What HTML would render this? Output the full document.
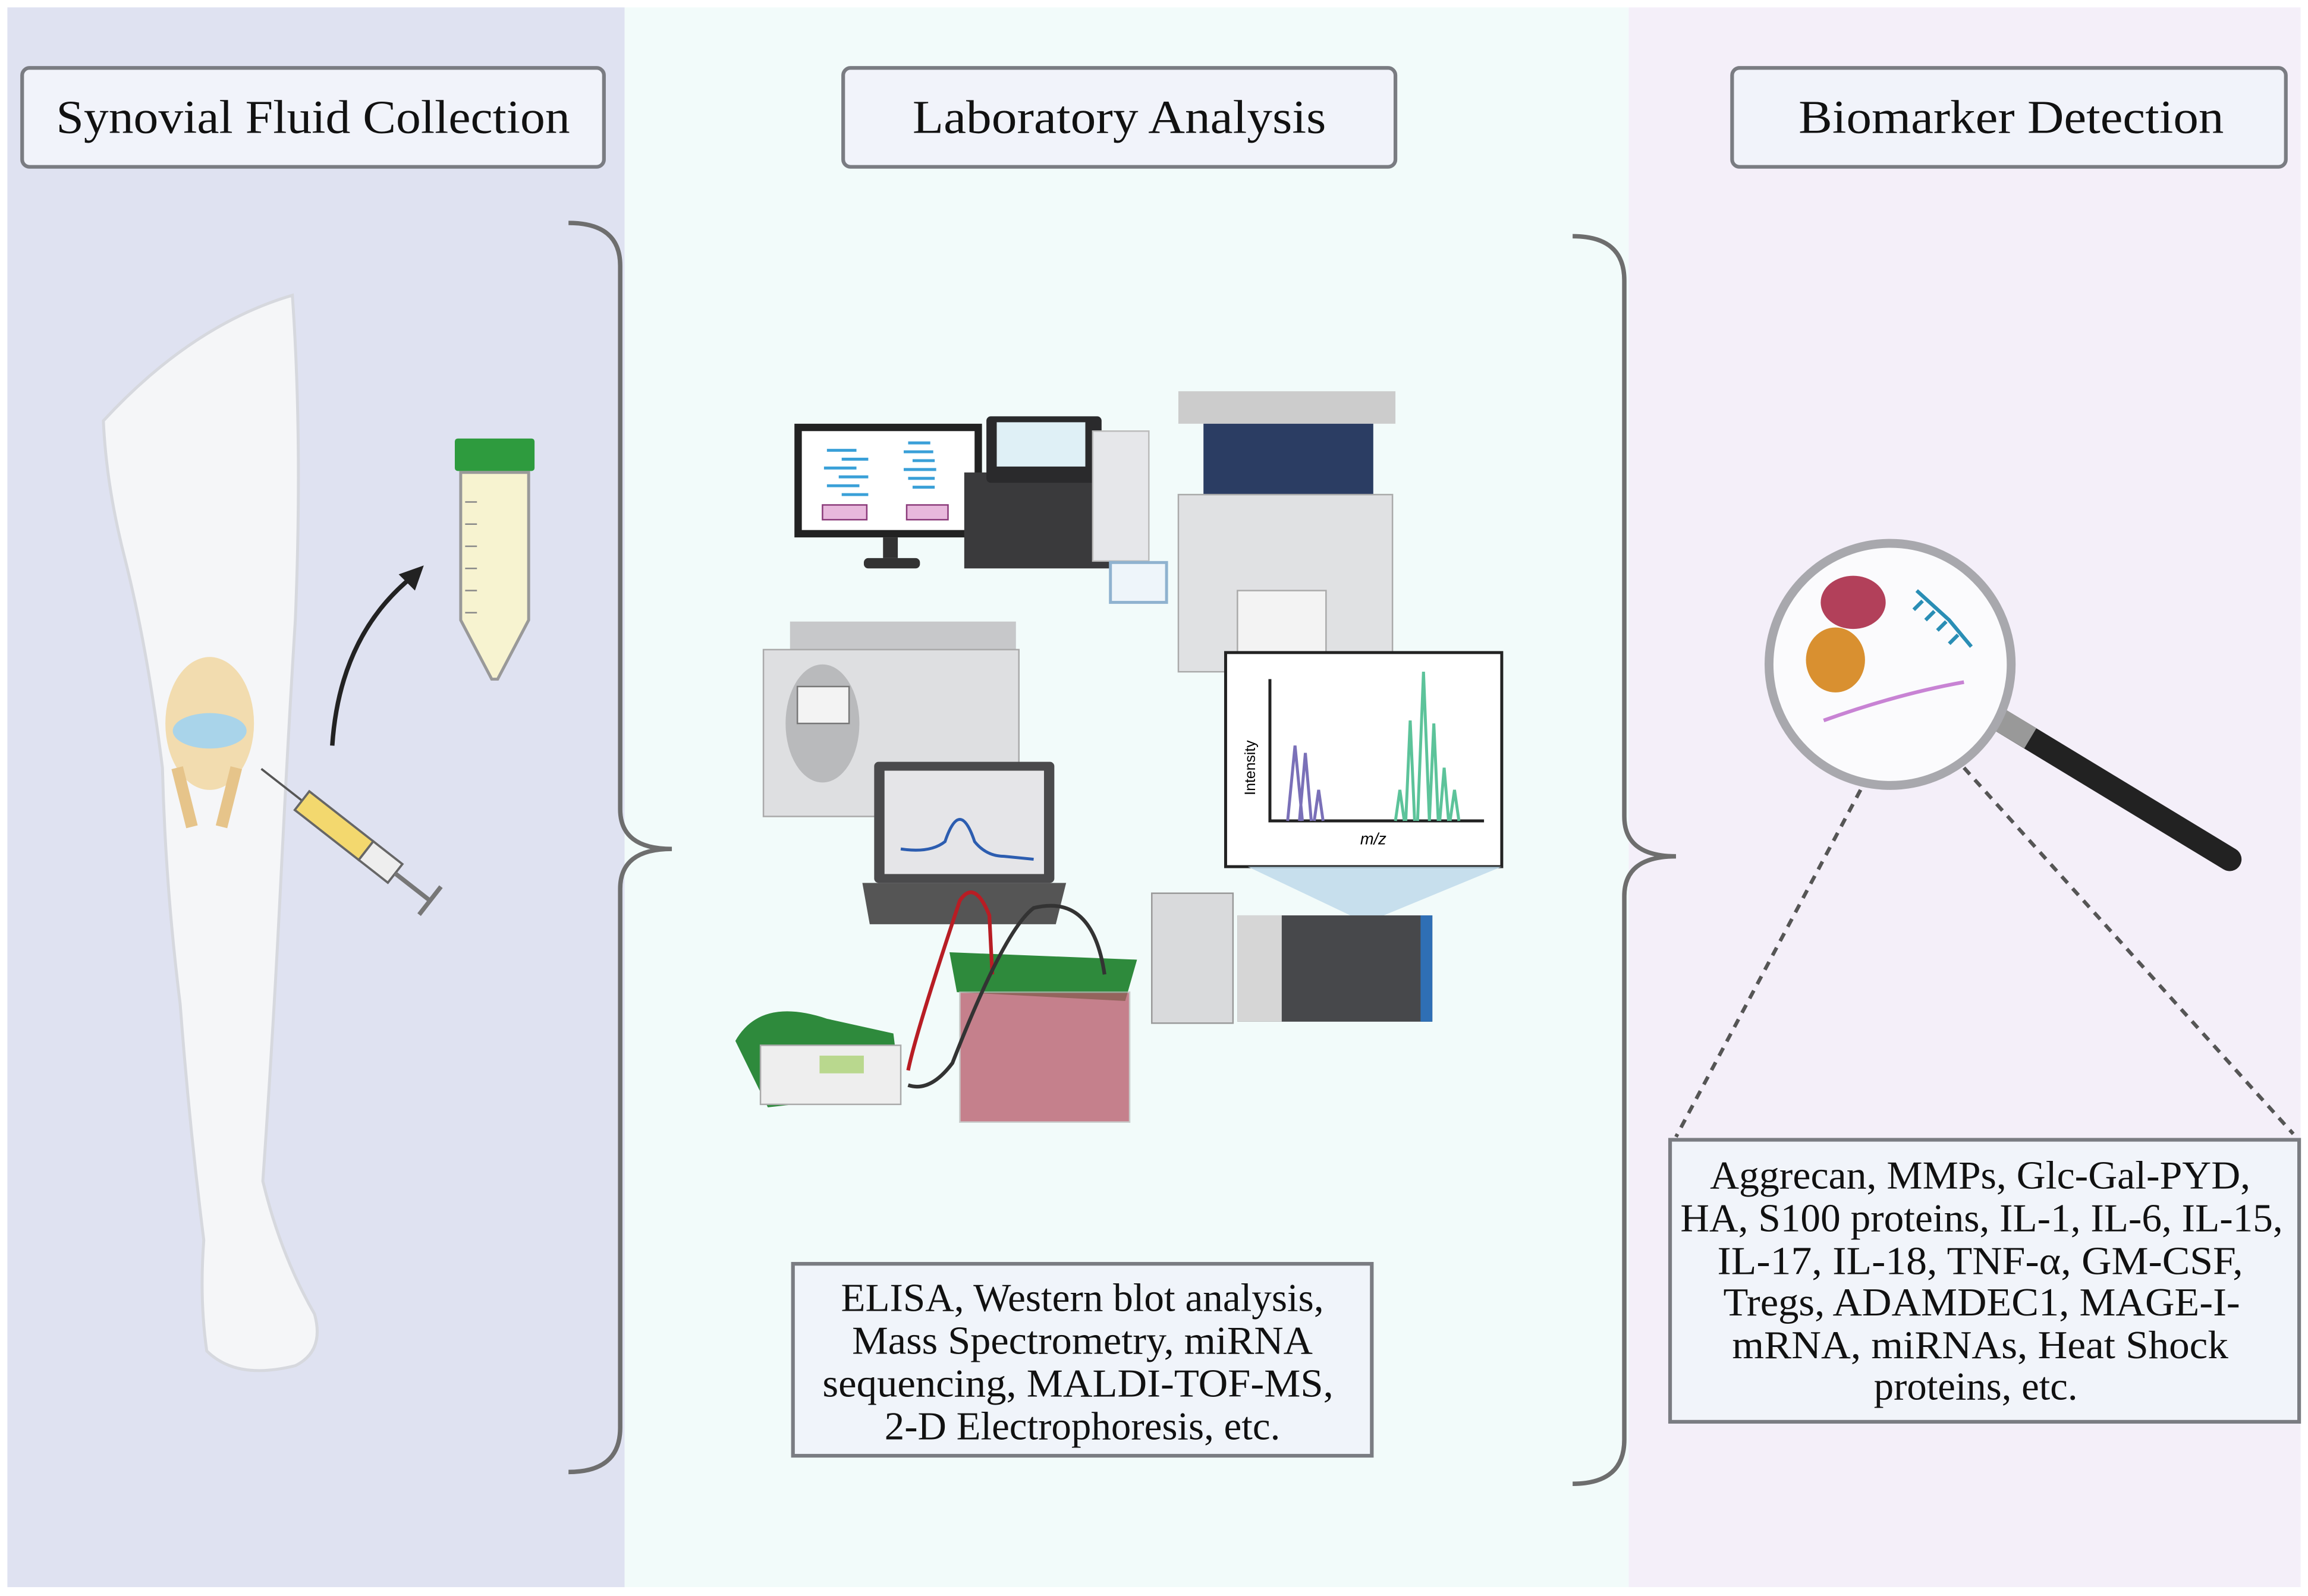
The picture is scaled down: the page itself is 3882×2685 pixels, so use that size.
<!DOCTYPE html>
<html><head><meta charset="utf-8"><style>
html,body{margin:0;padding:0;background:#fff;}
svg{display:block;}
</style></head><body>
<svg width="3882" height="2685" viewBox="0 0 1563 1081" preserveAspectRatio="none" xmlns="http://www.w3.org/2000/svg" font-family="'Liberation Serif', serif">
<rect x="0" y="0" width="1563" height="1081" fill="#fff"/>
<rect x="5" y="5" width="418" height="1070" fill="#dfe2f1"/>
<rect x="423" y="5" width="680" height="1070" fill="#f2fbfa"/>
<rect x="1103" y="5" width="455" height="1070" fill="#f4eff9"/>

<g stroke="#7a7c82" stroke-width="2.5" fill="#f1f3fa">
<rect x="15" y="46" width="394" height="67" rx="5"/>
<rect x="571" y="46" width="374" height="67" rx="5"/>
<rect x="1173" y="46" width="375" height="67" rx="5"/>
</g>
<g font-size="32" fill="#111" text-anchor="middle">
<text x="212" y="90" textLength="348" lengthAdjust="spacingAndGlyphs">Synovial Fluid Collection</text>
<text x="758" y="90" textLength="280" lengthAdjust="spacingAndGlyphs">Laboratory Analysis</text>
<text x="1362" y="90" textLength="288" lengthAdjust="spacingAndGlyphs">Biomarker Detection</text>
</g>

<g fill="none" stroke="#6e6e6e" stroke-width="3">
<path d="M385 151 Q420 151 420 180 L420 548 Q420 575 455 575 Q420 575 420 602 L420 967 Q420 997 385 997"/>
<path d="M1065 160 Q1100 160 1100 190 L1100 553 Q1100 580 1135 580 Q1100 580 1100 607 L1100 975 Q1100 1005 1065 1005"/>
</g>

<path d="M70 285 Q130 220 198 200 Q205 300 200 420 Q195 500 190 600 Q185 700 178 800 Q190 850 213 890 Q220 915 200 925 Q160 935 140 915 Q135 880 138 840 Q128 760 122 680 Q112 600 110 520 Q100 440 85 380 Q72 330 70 285Z" fill="#f5f6f8" stroke="#d6d8de" stroke-width="2"/>
<ellipse cx="142" cy="490" rx="30" ry="45" fill="#f2d9a6" opacity="0.9"/>
<ellipse cx="142" cy="495" rx="25" ry="12" fill="#a9d4ea"/>
<path d="M120 520 L130 560 M160 520 L150 560" stroke="#e6c48a" stroke-width="8"/>
<g transform="rotate(38 240 570)">
<line x1="160" y1="570" x2="195" y2="570" stroke="#555" stroke-width="1.5"/>
<rect x="195" y="562" width="55" height="16" fill="#f3d86e" stroke="#666" stroke-width="1.5"/>
<rect x="250" y="562" width="25" height="16" fill="#eee" stroke="#666" stroke-width="1.5"/>
<line x1="275" y1="570" x2="305" y2="570" stroke="#777" stroke-width="3"/>
<line x1="305" y1="558" x2="305" y2="582" stroke="#777" stroke-width="3"/>
</g>
<path d="M225 505 Q230 430 280 390" fill="none" stroke="#222" stroke-width="3"/>
<path d="M287 383 L270 389 L281 400Z" fill="#222"/>
<rect x="308" y="297" width="54" height="22" fill="#2e9b3e" rx="2"/>
<path d="M312 320 L358 320 L358 420 L337 460 L333 460 L312 420Z" fill="#f7f3d0" stroke="#999" stroke-width="2"/>
<g stroke="#888" stroke-width="1"><path d="M315 340h8M315 355h8M315 370h8M315 385h8M315 400h8M315 415h8"/></g>

<rect x="538" y="287" width="127" height="77" fill="#222"/>
<rect x="543" y="292" width="117" height="67" fill="#fff"/>
<g stroke="#3aa0d8" stroke-width="2"><path d="M560 305h20M570 311h18M558 317h22M568 323h20M560 329h22M570 335h18M615 300h15M612 306h20M618 312h15M612 318h22M615 324h18M618 330h15"/></g>
<rect x="557" y="342" width="30" height="10" fill="#e8b8dc" stroke="#8a3a7a"/>
<rect x="614" y="342" width="28" height="10" fill="#e8b8dc" stroke="#8a3a7a"/>
<rect x="598" y="364" width="10" height="14" fill="#333"/><rect x="585" y="378" width="38" height="7" fill="#333" rx="3"/>
<rect x="653" y="320" width="105" height="65" fill="#3a3a3c"/>
<rect x="668" y="282" width="78" height="45" fill="#2a2a2c" rx="3"/><rect x="675" y="286" width="60" height="30" fill="#dff0f6"/>
<rect x="740" y="292" width="38" height="88" fill="#e6e7ea" stroke="#bbb"/>
<rect x="798" y="265" width="147" height="22" fill="#ccc"/><rect x="815" y="287" width="115" height="55" fill="#2b3d63"/>
<rect x="798" y="335" width="145" height="120" fill="#e0e1e3" stroke="#aaa"/>
<rect x="838" y="400" width="60" height="62" fill="#f3f3f3" stroke="#aaa"/>
<rect x="752" y="381" width="38" height="27" fill="#eef5fa" stroke="#8fb2cf" stroke-width="2"/>
<rect x="535" y="421" width="153" height="20" fill="#c7c8ca"/>
<rect x="517" y="440" width="173" height="113" fill="#dedfe1" stroke="#aaa"/>
<ellipse cx="557" cy="490" rx="25" ry="40" fill="#b9babc"/><rect x="540" y="465" width="35" height="25" fill="#f3f3f3" stroke="#777"/>
<rect x="592" y="516" width="122" height="82" fill="#4a4a4c" rx="3"/>
<rect x="599" y="522" width="108" height="70" fill="#e5e5e8"/>
<path d="M610 575 Q630 578 640 570 Q650 540 660 570 Q668 580 680 580 L700 582" fill="none" stroke="#2c5db0" stroke-width="2"/>
<path d="M584 598 L722 598 L715 626 L589 626Z" fill="#555"/>
<rect x="830" y="442" width="187" height="145" fill="#fff" stroke="#222" stroke-width="2"/>
<path d="M860 460 L860 556 L1005 556" fill="none" stroke="#222" stroke-width="2"/>
<path d="M872 556 L877 505 L882 556 M880 556 L884 510 L888 556 M890 556 L893 535 L896 556" fill="none" stroke="#7a70b8" stroke-width="2"/>
<path d="M945 556 L948 535 L951 556 M952 556 L955 488 L958 556 M960 556 L964 455 L968 556 M968 556 L971 490 L974 556 M975 556 L978 520 L981 556 M982 556 L985 535 L988 556" fill="none" stroke="#5cc39a" stroke-width="2"/>
<text x="850" y="520" font-family="'Liberation Sans',sans-serif" font-size="10" transform="rotate(-90 850 520)" text-anchor="middle">Intensity</text>
<text x="930" y="572" font-family="'Liberation Sans',sans-serif" font-size="11" font-style="italic" text-anchor="middle">m/z</text>
<path d="M845 587 L1017 587 L925 625Z" fill="#bcd8ea" opacity="0.8"/>
<rect x="780" y="605" width="55" height="88" fill="#d9dadc" stroke="#999"/>
<rect x="838" y="620" width="132" height="72" fill="#47484b"/><rect x="838" y="620" width="30" height="72" fill="#d6d6d6"/>
<rect x="962" y="620" width="8" height="72" fill="#2f6fb5"/>
<path d="M643 645 L770 650 L762 678 L648 672Z" fill="#2e8a3c"/>
<rect x="650" y="672" width="115" height="88" fill="#b75868" opacity="0.75" stroke="#bbb"/>
<path d="M498 705 Q515 675 560 690 L605 700 L610 740 L520 750Z" fill="#2e8a3c"/>
<rect x="515" y="708" width="95" height="40" fill="#eee" stroke="#aaa"/>
<rect x="555" y="715" width="30" height="12" fill="#b9d88e"/>
<path d="M615 725 Q620 700 650 610 Q660 595 670 620 L672 660" fill="none" stroke="#b81d24" stroke-width="2.5"/>
<path d="M615 735 Q630 740 645 720 Q680 630 700 615 Q740 605 748 660" fill="none" stroke="#333" stroke-width="2.5"/>

<rect x="537" y="856" width="392" height="130" fill="#f0f4fa" stroke="#7a7c82" stroke-width="2.5"/>
<g font-size="27" fill="#111" text-anchor="middle">
<text x="733" y="888" textLength="327" lengthAdjust="spacingAndGlyphs">ELISA, Western blot analysis,</text>
<text x="733" y="917" textLength="312" lengthAdjust="spacingAndGlyphs">Mass Spectrometry, miRNA</text>
<text x="730" y="946" textLength="346" lengthAdjust="spacingAndGlyphs">sequencing, MALDI-TOF-MS,</text>
<text x="733" y="975" textLength="268" lengthAdjust="spacingAndGlyphs">2-D Electrophoresis, etc.</text>
</g>

<line x1="1350" y1="485" x2="1510" y2="582" stroke="#222" stroke-width="16" stroke-linecap="round"/>
<line x1="1350" y1="485" x2="1375" y2="500" stroke="#999" stroke-width="16"/>
<circle cx="1280" cy="450" r="82" fill="#fbfbfd" stroke="#a8a8ad" stroke-width="6"/>
<ellipse cx="1255" cy="408" rx="22" ry="18" fill="#b2405a"/>
<ellipse cx="1243" cy="447" rx="20" ry="22" fill="#d99030"/>
<path d="M1298 400 L1320 420 L1335 438 M1302 407 L1296 413 M1310 414 L1304 420 M1318 421 L1312 427 M1326 430 L1320 436" fill="none" stroke="#2a8eb5" stroke-width="2.5"/>
<path d="M1235 488 Q1285 470 1330 462" fill="none" stroke="#c883d4" stroke-width="2.5"/>
<g stroke="#555" stroke-width="2.5" stroke-dasharray="6,5" fill="none">
<line x1="1260" y1="535" x2="1135" y2="770"/>
<line x1="1330" y1="520" x2="1553" y2="768"/>
</g>
<rect x="1131" y="772" width="426" height="191" fill="#f1f4fa" stroke="#7a7c82" stroke-width="2.5"/>
<g font-size="27" fill="#111" text-anchor="middle">
<text x="1341" y="805" textLength="366" lengthAdjust="spacingAndGlyphs">Aggrecan, MMPs, Glc-Gal-PYD,</text>
<text x="1342" y="834" textLength="408" lengthAdjust="spacingAndGlyphs">HA, S100 proteins, IL-1, IL-6, IL-15,</text>
<text x="1341" y="863" textLength="356" lengthAdjust="spacingAndGlyphs">IL-17, IL-18, TNF-α, GM-CSF,</text>
<text x="1342" y="891" textLength="350" lengthAdjust="spacingAndGlyphs">Tregs, ADAMDEC1, MAGE-I-</text>
<text x="1341" y="920" textLength="336" lengthAdjust="spacingAndGlyphs">mRNA, miRNAs, Heat Shock</text>
<text x="1338" y="948" textLength="138" lengthAdjust="spacingAndGlyphs">proteins, etc.</text>
</g>
</svg>
</body></html>
